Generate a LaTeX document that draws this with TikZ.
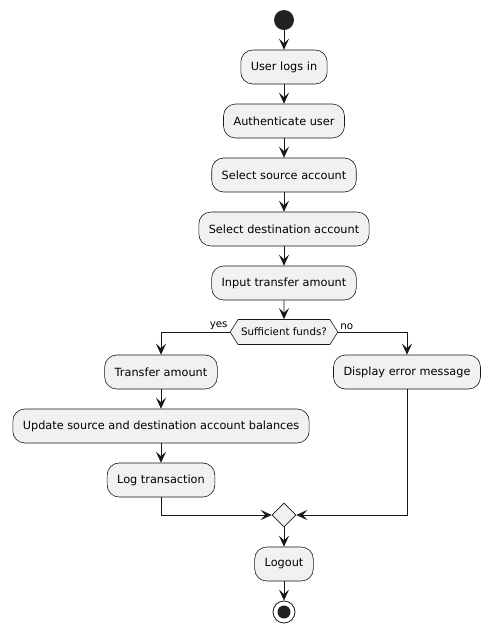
\documentclass[tikz,border=0pt]{standalone}
\usepackage{fontspec}
\setmainfont{DejaVu Sans}
\usetikzlibrary{arrows.meta,shapes.geometric,shapes.symbols}
\definecolor{boxfill}{HTML}{F1F1F1}
\definecolor{lineclr}{HTML}{181818}
\definecolor{dotclr}{HTML}{222222}
\tikzset{
  act/.style={draw=lineclr, fill=boxfill, rounded corners=12pt, minimum height=34pt, inner xsep=10pt, font=\fontsize{11.3}{14}\selectfont, line width=0.6pt},
  conn/.style={draw=lineclr, line width=0.9pt, -{Stealth[length=11pt,width=10pt,inset=4.5pt]}},
  lbl/.style={font=\fontsize{10.3}{13}\selectfont, inner sep=1pt},
  decbox/.style={draw=lineclr, fill=boxfill, shape=signal, signal to=west and east, signal pointer angle=115, minimum height=25pt, inner xsep=3pt, inner ysep=0pt, font=\fontsize{10.3}{13}\selectfont, line width=0.6pt},
  mergebox/.style={draw=lineclr, fill=boxfill, shape=diamond, minimum width=24pt, minimum height=24pt, inner sep=0pt, line width=0.6pt}
}
\begin{document}
\begin{tikzpicture}[x=1pt,y=-1pt]
\useasboundingbox (0,0) rectangle (491,633);
\node[circle, fill=dotclr, minimum size=20pt, inner sep=0pt] (start) at (284,20) {};
\node[act] (b1) at (284,67) {User logs in};
\node[act] (b2) at (284,121) {Authenticate user};
\node[act] (b3) at (284,175) {Select source account};
\node[act] (b4) at (284,229) {Select destination account};
\node[act] (b5) at (284,283) {Input transfer amount};
\node[decbox] (dec) at (284,332) {Sufficient funds?};
\node[act] (tb) at (161,372) {Transfer amount};
\node[act] (upd) at (161,426) {Update source and destination account balances};
\node[act] (log) at (161,480) {Log transaction};
\node[act] (err) at (407,372) {Display error message};
\node[mergebox] (merge) at (284,515) {};
\node[act] (out) at (284,564) {Logout};
\node[circle, draw=lineclr, fill=white, line width=0.8pt, minimum size=22pt, inner sep=0pt] (stop) at (284,612) {};
\fill[dotclr] (stop.center) circle (6.5pt);

\draw[conn] (start) -- (b1);
\draw[conn] (b1) -- (b2);
\draw[conn] (b2) -- (b3);
\draw[conn] (b3) -- (b4);
\draw[conn] (b4) -- (b5);
\draw[conn] (b5) -- (dec);
\draw[conn] (dec.west) -| (tb.north);
\draw[conn] (dec.east) -| (err.north);
\node[lbl, anchor=south east] at ([xshift=-1pt,yshift=1pt]dec.west) {yes};
\node[lbl, anchor=south west] at ([xshift=1pt,yshift=1pt]dec.east) {no};
\draw[conn] (tb) -- (upd);
\draw[conn] (upd) -- (log);
\draw[conn] (log.south) |- (merge.west);
\draw[conn] (err.south) |- (merge.east);
\draw[conn] (merge) -- (out);
\draw[conn] (out) -- (stop);
\end{tikzpicture}
\end{document}
